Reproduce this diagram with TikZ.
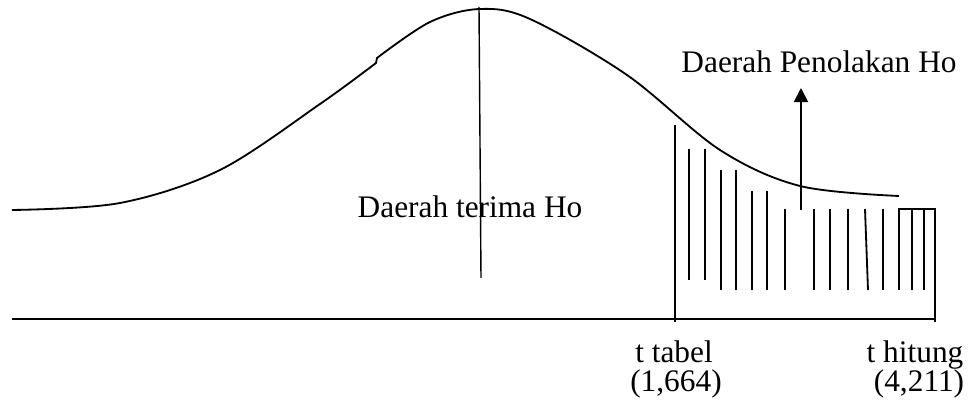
\documentclass[tikz,border=0pt]{standalone}
\usepackage{fontspec}
\setmainfont{Liberation Serif}
\usepackage{tikz}
\usetikzlibrary{arrows.meta}

\begin{document}
\begin{tikzpicture}[>={Triangle[length=10pt,width=10pt]}, line width=1.3pt,
    lbl/.style={anchor=base, inner sep=0pt, font=\fontsize{22.3}{27}\selectfont}]
    \useasboundingbox (0,0) rectangle (24.325,10.025);

    % axis
    \coordinate (O) at (0.3, 2.05);
    \coordinate (E) at (23.375, 2.05);
    \draw (O) -- (E);

    % t tabel and t hitung
    \coordinate (T1) at (16.875, 1.975);
    \coordinate (T1top) at (16.875, 6.9);
    \coordinate (T2) at (23.375, 1.975);
    \coordinate (T2top) at (23.375, 4.8);
    \draw (T1) -- (T1top);
    \draw (T2) -- (T2top) -- (22.475, 4.8) -- (22.475, 2.775);

    % curve (two pieces with a small step between them)
    \draw[line join=round] plot[smooth, tension=0.55] coordinates {(0.3,4.775) (3,4.95)
        (5.5,5.775) (8,7.425) (9.4,8.45)}
        -- plot[smooth, tension=0.55] coordinates {(9.425,8.575) (10.75,9.475) (12,9.8)
        (13.25,9.55) (15.675,8.15) (18,6.275) (20,5.375) (22.475,5.125)};

    % mean
    \coordinate (M) at (11.975, 9.85);
    \coordinate (Mb) at (12.025, 3.075);
    \draw[line width=1pt] (M) -- (Mb);

    % hatching of the rejection region
    \draw (17.225, 6.3) -- (17.225, 3.025);
    \draw (17.625, 6.3) -- (17.625, 3.025);
    \draw (18.025, 5.775) -- (18.025, 2.775);
    \draw (18.4, 5.775) -- (18.4, 2.775);
    \draw (18.8, 5.25) -- (18.8, 2.775);
    \draw (19.175, 5.25) -- (19.175, 2.775);
    \draw (19.625, 4.8) -- (19.625, 2.775);
    \draw (20.35, 4.8) -- (20.35, 2.775);
    \draw (20.75, 4.8) -- (20.75, 2.775);
    \draw (21.2, 4.8) -- (21.2, 2.775);
    \draw (21.625, 4.8) -- (21.7, 2.775);
    \draw (22.075, 4.8) -- (22.075, 2.775);
    \draw (22.8, 4.8) -- (22.8, 2.775);
    \draw (23.1, 4.8) -- (23.1, 2.775);

    % arrow
    \coordinate (A) at (20.025, 4.775);
    \coordinate (B) at (20.025, 7.825);
    \draw[->] (A) -- (B);

    \node[lbl] (terima) at (11.75, 4.575) {Daerah terima Ho};
    \node[lbl] (tolak) at (20.475, 8.2) {Daerah Penolakan Ho};
    \node[lbl] (ttabel) at (16.85, 0.95) {t tabel};
    \node[lbl] (vtabel) at (16.9, 0.225) {(1,664)};
    \node[lbl] (thitung) at (22.875, 0.95) {t hitung};
    \node[lbl] (vhitung) at (22.975, 0.225) {(4,211)};
\end{tikzpicture}
\end{document}
